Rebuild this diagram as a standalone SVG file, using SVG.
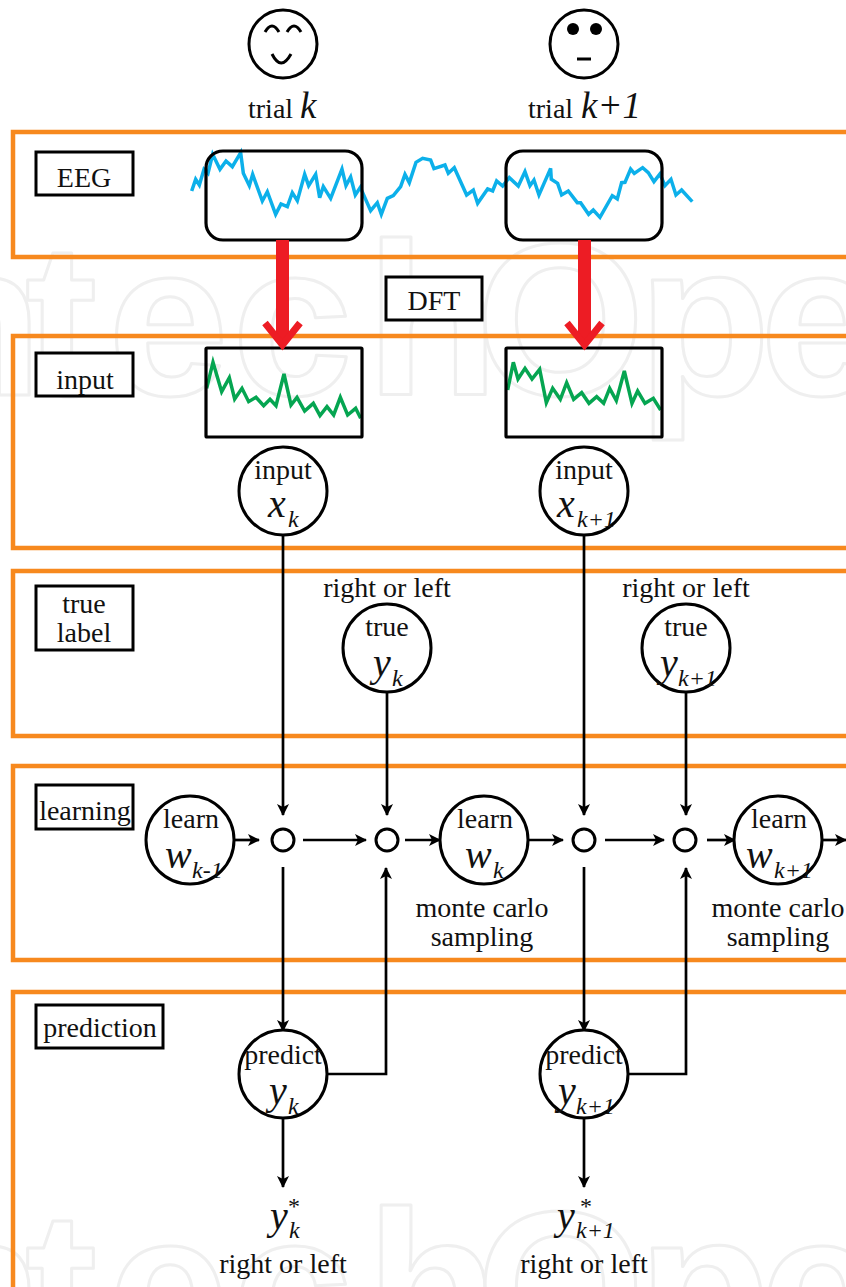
<svg xmlns="http://www.w3.org/2000/svg" width="846" height="1287" viewBox="0 0 846 1287">
<style>
text{font-family:"Liberation Serif","Times New Roman",serif;font-size:28px;fill:#111;text-anchor:middle}
.wm{font-family:"Liberation Sans",Arial,sans-serif;font-size:217px;font-weight:bold;fill:none;stroke:#efefef;stroke-width:3;stroke-linejoin:round;text-anchor:start}
.i{font-style:italic;font-size:40px;text-anchor:start}
.s{font-style:italic;font-size:24px;text-anchor:start}
.t{font-style:italic;font-size:37px}
.band{fill:none;stroke:#f7891e;stroke-width:4.5}
.lab{fill:#fff;stroke:#000;stroke-width:3}
.win{fill:none;stroke:#000;stroke-width:3.2}
.n{fill:#fff;stroke:#000;stroke-width:3}
.c{fill:none;stroke:#000;stroke-width:2.7}
.a{marker-end:url(#ah)}
.eeg{fill:none;stroke:#0cb0ea;stroke-width:10.500}
.sp{fill:none;stroke:#05a551;stroke-width:10.500}
.red{fill:none;stroke:#ed1c24}
</style>
<defs>
<marker id="ah" markerUnits="userSpaceOnUse" markerWidth="14" markerHeight="14" refX="11" refY="6" orient="auto"><path d="M0 0L12 6L0 12L3 6Z" fill="#000"/></marker>
</defs>
<g id="watermark">
<text class="wm" y="395" x="-90 25 108 232 366 476 638 760">ntechOpen</text>
<text class="wm" y="1363" x="-90 25 108 232 366 476 638 760">ntechOpen</text>
</g>
<g id="bands">
<path class="band" d="M846 132H13V257H846"/>
<path class="band" d="M846 336H13V548H846"/>
<path class="band" d="M846 571H13V736H846"/>
<path class="band" d="M846 766H13V960H846"/>
<path class="band" d="M846 992H13V1290"/>
</g>
<g id="face-k">
<circle cx="283" cy="44" r="34" fill="#fff" stroke="#000" stroke-width="3"/>
<path d="M265 32Q272 20 279 32M287 32Q294 20 301 32M272 54Q281 72 291 54" fill="none" stroke="#000" stroke-width="3"/>
<text x="248" y="118" style="text-anchor:start">trial</text><text x="300" y="118" class="t" style="text-anchor:start">k</text>
</g>
<g id="face-k1">
<circle cx="584" cy="44" r="34" fill="#fff" stroke="#000" stroke-width="3"/>
<ellipse cx="573" cy="29" rx="6" ry="6"/><ellipse cx="596" cy="29" rx="6" ry="6"/>
<path d="M577 59H591" stroke="#000" stroke-width="3"/>
<text x="528" y="118" style="text-anchor:start">trial</text><text x="581" y="118" class="t" style="text-anchor:start">k+1</text>
</g>
<g id="label-eeg"><rect class="lab" x="36" y="152" width="97" height="43"/><text x="84" y="187">EEG</text></g>
<g id="label-dft"><rect class="lab" x="386" y="277" width="96" height="43"/><text x="434" y="310">DFT</text></g>
<g id="label-input"><rect class="lab" x="36" y="353" width="97" height="43"/><text x="85" y="389">input</text></g>
<g id="label-true"><rect class="lab" x="36" y="586" width="97" height="64"/><text x="84" y="613">true</text><text x="84" y="642">label</text></g>
<g id="label-learning"><rect class="lab" x="36" y="785" width="97" height="44"/><text x="85" y="820">learning</text></g>
<g id="label-prediction"><rect class="lab" x="36" y="1005" width="127" height="43"/><text x="100" y="1037">prediction</text></g>
<g id="eeg-signal">
<polyline class="eeg" transform="translate(180 130) scale(.3333)" points="35,183 47,148 58,165 72,118 84,130 98,73 120,118 138,93 157,110 182,68 190,130 208,167 218,133 247,213 262,185 287,253 303,222 322,230 337,188 352,212 374,133 386,167 407,133 419,203 430,170 452,205 486,117 498,167 512,141 526,195 541,172 572,242 592,218 604,253 622,205 640,197 662,170 675,133 688,158 708,97 728,85 752,90 762,116 795,105 805,130 823,113 860,195 880,180 893,220 923,177 938,183 950,153 968,168 988,143 1015,168 1035,125 1050,167 1062,150 1077,195 1112,115 1114,148 1133,160 1145,195 1165,183 1192,218 1202,218 1226,253 1240,240 1260,262 1297,197 1312,207 1325,158 1335,157 1352,117 1363,130 1388,113 1405,128 1422,155 1440,132 1455,167 1473,148 1488,195 1505,180 1537,215"/>
<rect class="win" x="206" y="151" width="156" height="89" rx="17"/>
<rect class="win" x="506" y="151" width="156" height="89" rx="17"/>
</g>
<g id="spectra">
<polyline class="sp" transform="translate(190 320) scale(.3333)" points="50,205 69,127 95,215 118,173 134,237 156,205 176,245 198,232 221,257 240,238 258,257 282,162 303,255 321,232 344,273 370,250 390,287 411,260 431,285 451,232 473,285 497,265 512,295"/>
<polyline class="sp" transform="translate(490 320) scale(.3333)" points="53,210 70,127 84,177 105,145 126,177 149,148 169,248 188,205 211,238 230,188 251,238 275,218 297,250 320,230 341,250 359,205 379,242 403,153 426,250 443,213 465,250 490,235 512,270"/>
<rect class="win" x="206" y="348" width="156" height="89" rx="1"/>
<rect class="win" x="506" y="348" width="156" height="89" rx="1"/>
</g>
<g id="connectors">
<path class="red" stroke-width="13" d="M282.500 240V340M584.500 240V340"/>
<path class="red" stroke-width="7" d="M265 323L282.500 345L300 323M567 323L584.500 345L602 323"/>
<path class="c a" d="M283 535V815"/>
<path class="c a" d="M387 692V815"/>
<path class="c a" d="M584 535V815"/>
<path class="c a" d="M686 692V815"/>
<path class="c a" d="M234 840H259"/>
<path class="c a" d="M303 840H366"/>
<path class="c a" d="M405 840H440"/>
<path class="c a" d="M529 840H563"/>
<path class="c a" d="M605 840H664"/>
<path class="c a" d="M707 840H735"/>
<path class="c a" d="M822 840H846"/>
<path class="c a" d="M283 867V1031"/>
<path class="c a" d="M584 867V1031"/>
<path class="c a" d="M327 1074H386V868"/>
<path class="c a" d="M628 1074H686V868"/>
<path class="c a" d="M283 1118V1187"/>
<path class="c a" d="M584 1118V1187"/>
</g>
<g id="node-xk"><circle class="n" cx="283" cy="491" r="44"/><text x="283" y="479">input</text><text class="i" x="268" y="517">x</text><text class="s" x="288" y="527">k</text></g>
<g id="node-xk1"><circle class="n" cx="584" cy="491" r="44"/><text x="584" y="479">input</text><text class="i" x="557" y="517">x</text><text class="s" x="577" y="527">k+1</text></g>
<g id="node-yk"><text x="387" y="597">right or left</text><circle class="n" cx="387" cy="648" r="44"/><text x="387" y="636">true</text><text class="i" x="373" y="676">y</text><text class="s" x="392" y="686">k</text></g>
<g id="node-yk1"><text x="686" y="597">right or left</text><circle class="n" cx="686" cy="648" r="44"/><text x="686" y="636">true</text><text class="i" x="660" y="676">y</text><text class="s" x="678" y="686">k+1</text></g>
<g id="node-wk0"><circle class="n" cx="190" cy="840" r="44"/><text x="191" y="828">learn</text><text class="i" x="165" y="868">w</text><text class="s" x="192" y="878">k-1</text></g>
<g id="node-wk"><circle class="n" cx="484" cy="840" r="44"/><text x="485" y="828">learn</text><text class="i" x="465" y="868">w</text><text class="s" x="493" y="878">k</text><text x="482" y="917">monte carlo</text><text x="482" y="946">sampling</text></g>
<g id="node-wk1"><circle class="n" cx="778" cy="840" r="44"/><text x="779" y="828">learn</text><text class="i" x="746" y="868">w</text><text class="s" x="774" y="878">k+1</text><text x="778" y="917">monte carlo</text><text x="778" y="946">sampling</text></g>
<g id="join-1"><circle class="n" cx="283" cy="840" r="11"/></g>
<g id="join-2"><circle class="n" cx="387" cy="840" r="11"/></g>
<g id="join-3"><circle class="n" cx="584" cy="840" r="11"/></g>
<g id="join-4"><circle class="n" cx="685" cy="840" r="11"/></g>
<g id="node-pk"><circle class="n" cx="283" cy="1074" r="44"/><text x="283" y="1064">predict</text><text class="i" x="269" y="1104">y</text><text class="s" x="288" y="1114">k</text></g>
<g id="node-pk1"><circle class="n" cx="584" cy="1074" r="44"/><text x="584" y="1064">predict</text><text class="i" x="558" y="1104">y</text><text class="s" x="576" y="1114">k+1</text></g>
<g id="out-k"><text class="i" x="270" y="1229">y</text><text class="s" x="288" y="1214" style="font-style:normal">*</text><text class="s" x="289" y="1238">k</text><text x="283" y="1273">right or left</text></g>
<g id="out-k1"><text class="i" x="557" y="1229">y</text><text class="s" x="580" y="1214" style="font-style:normal">*</text><text class="s" x="576" y="1238">k+1</text><text x="584" y="1273">right or left</text></g>
</svg>
